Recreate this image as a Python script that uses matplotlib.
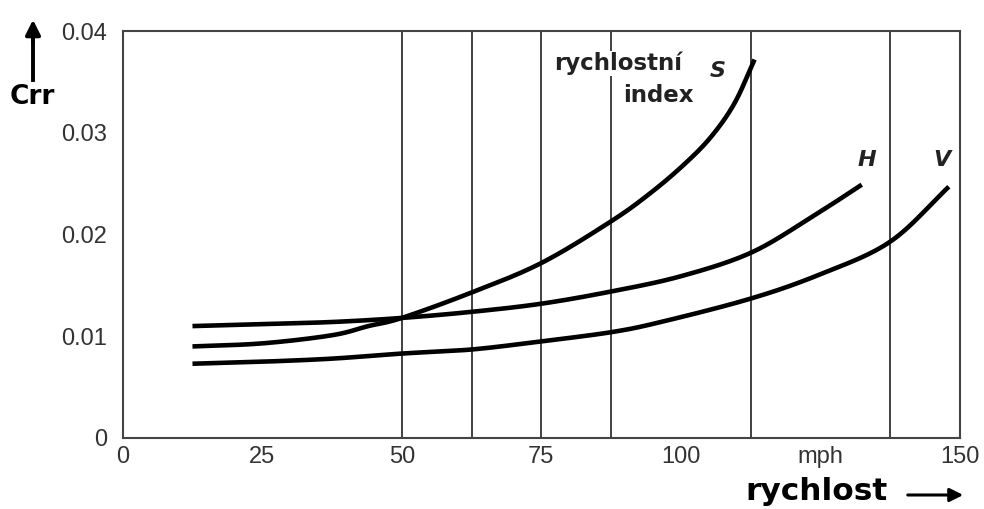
import matplotlib.pyplot as plt
import numpy as np

# speed (mph) and rolling resistance coefficient
s_speed = [12.5, 25, 37.5, 44, 50, 62.5, 75, 87.5, 94.6, 100.6, 105.4, 109.6, 113.2]
s_crr = [0.0090, 0.0093, 0.0101, 0.0110, 0.0118, 0.0143, 0.0172, 0.0213, 0.0241, 0.0269, 0.0296, 0.0329, 0.0372]

h_speed = [12.5, 25, 37.5, 50, 62.5, 75, 87.5, 100, 112.5, 123.4, 132.4]
h_crr = [0.0110, 0.0112, 0.0114, 0.0118, 0.0124, 0.0132, 0.0144, 0.0159, 0.0182, 0.0217, 0.0249]

v_speed = [12.5, 25, 37.5, 50, 62.5, 75, 87.5, 96.4, 112.5, 125, 137.5, 148]
v_crr = [0.0073, 0.0075, 0.0078, 0.0083, 0.0087, 0.0095, 0.0104, 0.0114, 0.0137, 0.0161, 0.0193, 0.0247]

curve_labels = ['S', 'H', 'V']
label_pos = [(106.5, 0.0361), (133.3, 0.0273), (146.8, 0.0273)]

grid_speeds = [50, 62.5, 75, 87.5, 112.5, 137.5]
xtick_vals = [0, 25, 50, 75, 100, 125, 150]
xtick_text = ['0', '25', '50', '75', '100', 'mph', '150']
ytick_vals = [0, 0.01, 0.02, 0.03, 0.04]
ytick_text = ['0', '0.01', '0.02', '0.03', '0.04']


def catmull_rom(xs, ys, n=30):
    # smooth curve that passes through every read point
    p = np.column_stack([xs, ys]).astype(float)
    p = np.vstack([2 * p[0] - p[1], p, 2 * p[-1] - p[-2]])
    out = []
    t = np.linspace(0, 1, n, endpoint=False)[:, None]
    for i in range(1, len(p) - 2):
        p0, p1, p2, p3 = p[i - 1], p[i], p[i + 1], p[i + 2]
        seg = 0.5 * ((2 * p1) + (-p0 + p2) * t + (2 * p0 - 5 * p1 + 4 * p2 - p3) * t ** 2
                     + (-p0 + 3 * p1 - 3 * p2 + p3) * t ** 3)
        out.append(seg)
    out.append(p[-2][None, :])
    out = np.vstack(out)
    return out[:, 0], out[:, 1]


fig = plt.figure(figsize=(9.84, 5.09), dpi=100)
ax = fig.add_axes([0.1247, 0.1395, 0.8509, 0.7995])

for x in grid_speeds:
    ax.axvline(x, color='#333333', lw=1.3, zorder=1)

for xs, ys in [(s_speed, s_crr), (h_speed, h_crr), (v_speed, v_crr)]:
    cx, cy = catmull_rom(xs, ys)
    ax.plot(cx, cy, color='black', lw=3.3, solid_capstyle='butt', zorder=3)

for lab, (x, y) in zip(curve_labels, label_pos):
    ax.text(x, y, lab, fontsize=16, fontweight='bold', fontstyle='italic',
            ha='center', va='center', color='#222222')

ax.text(88.7, 0.0368, 'rychlostní', fontsize=16.5, fontweight='bold',
        ha='center', va='center', color='#222222',
        bbox=dict(facecolor='white', edgecolor='none', pad=0.5))
ax.text(95.9, 0.0337, 'index', fontsize=16.5, fontweight='bold',
        ha='center', va='center', color='#222222',
        bbox=dict(facecolor='white', edgecolor='none', pad=0.5))

ax.set_xlim(0, 150)
ax.set_ylim(0, 0.04)
ax.set_xticks(xtick_vals)
ax.set_xticklabels(xtick_text)
ax.set_yticks(ytick_vals)
ax.set_yticklabels(ytick_text)
ax.tick_params(length=0, labelsize=17, colors='#333333', pad=6)
ax.tick_params(axis='y', pad=11)
for lbl in ax.get_xticklabels() + ax.get_yticklabels():
    lbl.set_family('Liberation Sans')
for sp in ax.spines.values():
    sp.set_color('#444444')
    sp.set_linewidth(1.5)

# axis captions with arrows
fig.text(32 / 984, 1 - 97 / 509, 'Crr', fontsize=19, fontweight='bold',
         ha='center', va='center')
fig.add_artist(plt.Line2D([33 / 984, 33 / 984], [1 - 80 / 509, 1 - 35 / 509],
                          color='black', lw=2.8))
ax.annotate('', xy=(33 / 984, 1 - 17 / 509), xytext=(33 / 984, 1 - 45 / 509),
            xycoords='figure fraction', textcoords='figure fraction',
            arrowprops=dict(arrowstyle='-|>', color='black', lw=2.8,
                            mutation_scale=22))
fig.text(816 / 984, 1 - 492 / 509, 'rychlost', fontsize=22.5, fontweight='bold',
         ha='center', va='center')
ax.annotate('', xy=(966 / 984, 1 - 495 / 509), xytext=(905 / 984, 1 - 495 / 509),
            xycoords='figure fraction', textcoords='figure fraction',
            arrowprops=dict(arrowstyle='-|>', color='black', lw=2.2,
                            mutation_scale=20))

fig.savefig('out.png', dpi=100)
